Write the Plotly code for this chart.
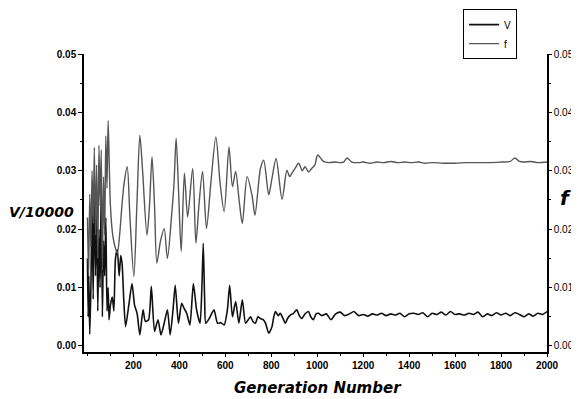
import plotly.graph_objects as go

# ---- data ----
gen_f = [0, 5, 10, 15, 20, 25, 30, 35, 40, 45, 50, 55, 60, 65, 70, 75, 80, 85, 90, 95,
         100, 110, 120, 130, 140, 150, 160, 173, 185, 202, 215, 228, 240, 259, 270, 281,
         292, 302, 318, 334, 348, 367, 377, 386, 397, 408, 422, 436, 458, 472, 485, 501,
         518, 537, 559, 577, 595, 616, 631, 645, 660, 674, 695, 717, 729, 753, 767, 789,
         803, 821, 847, 868, 880, 890, 905, 919, 935, 947, 962, 976, 990, 1002, 1027,
         1050, 1080, 1100, 1115, 1130, 1150, 1180, 1200, 1230, 1260, 1290, 1320, 1350,
         1380, 1410, 1440, 1470, 1500, 1550, 1600, 1650, 1700, 1750, 1800, 1840, 1860,
         1880, 1900, 1930, 1960, 2000]
val_f = [0.022, 0.012, 0.026, 0.017, 0.030, 0.021, 0.034, 0.019, 0.031, 0.015, 0.0344,
         0.024, 0.0336, 0.013, 0.029, 0.019, 0.036, 0.027, 0.0386, 0.031, 0.024, 0.019,
         0.017, 0.0159, 0.019, 0.024, 0.028, 0.0307, 0.022, 0.0119, 0.024, 0.0361, 0.030,
         0.019, 0.024, 0.0324, 0.024, 0.0142, 0.018, 0.0201, 0.015, 0.0227, 0.028, 0.0356,
         0.026, 0.0162, 0.0296, 0.0221, 0.0304, 0.0176, 0.024, 0.0299, 0.0201, 0.0279,
         0.0358, 0.028, 0.023, 0.0341, 0.0273, 0.0299, 0.025, 0.021, 0.029, 0.0256, 0.0224,
         0.0304, 0.0318, 0.0259, 0.0287, 0.0321, 0.0251, 0.0301, 0.029, 0.0296, 0.0305,
         0.0313, 0.030, 0.0307, 0.0298, 0.0304, 0.031, 0.0327, 0.0316,
         0.0314, 0.0315, 0.0314, 0.0315, 0.0322, 0.0315, 0.0314, 0.0315, 0.0313, 0.0315,
         0.0314, 0.0316, 0.0314, 0.0315, 0.0314, 0.0315, 0.0313, 0.0314, 0.0313, 0.0313,
         0.0314, 0.0314, 0.0314, 0.0315, 0.0316, 0.0322, 0.0316, 0.0315, 0.0316, 0.0314,
         0.0315]

gen_v = [0, 3, 6, 10, 15, 20, 25, 30, 35, 40, 45, 50, 55, 60, 65, 70, 75, 80, 85, 90, 94,
         100, 108, 115, 122, 130, 138, 145, 151, 158, 166, 180, 194, 205, 216, 228, 242,
         252, 266, 278, 292, 307, 320, 334, 348, 360, 372, 382, 396, 410, 420, 432, 446,
         461, 475, 490, 498, 504, 510, 515, 530, 540, 551, 566, 580, 595, 609, 619, 631,
         645, 659, 674, 688, 700, 710, 720, 731, 742, 753, 765, 775, 789, 803, 810, 818,
         830, 839, 850, 861, 872, 883, 897, 911, 922, 933, 947, 962, 972, 983, 995, 1005,
         1020, 1040, 1060, 1080, 1100, 1120, 1140, 1160, 1180, 1200, 1220, 1240, 1260,
         1280, 1300, 1320, 1340, 1360, 1380, 1400, 1420, 1440, 1460, 1480, 1500, 1520,
         1540, 1560, 1580, 1600, 1620, 1640, 1660, 1680, 1700, 1720, 1740, 1760, 1780,
         1800, 1820, 1840, 1860, 1880, 1900, 1920, 1940, 1960, 1980, 2000]
val_v = [0.015, 0.005, 0.012, 0.002, 0.010, 0.025, 0.008, 0.028, 0.012, 0.024, 0.006,
         0.020, 0.010, 0.027, 0.005, 0.018, 0.012, 0.022, 0.006, 0.010, 0.0045, 0.007,
         0.0084, 0.006, 0.015, 0.0165, 0.012, 0.0155, 0.014, 0.008, 0.0033, 0.007, 0.0107,
         0.007, 0.0056, 0.0019, 0.0062, 0.0042, 0.0045, 0.0102, 0.0025, 0.0045, 0.0019,
         0.0039, 0.0062, 0.0019, 0.006, 0.0104, 0.0039, 0.0073, 0.0065, 0.0056, 0.0036,
         0.0107, 0.0062, 0.0039, 0.010, 0.0176, 0.008, 0.0039, 0.0047, 0.0055, 0.0062,
         0.0039, 0.004, 0.0036, 0.0062, 0.0104, 0.005, 0.0076, 0.0039, 0.0079, 0.0039,
         0.0045, 0.005, 0.0042, 0.0039, 0.005, 0.0047, 0.0045, 0.0039, 0.0022, 0.0033,
         0.0048, 0.0059, 0.0052, 0.0056, 0.0048, 0.0039, 0.0048, 0.0053, 0.0056, 0.0062,
         0.0052, 0.0047, 0.0055, 0.0059, 0.005, 0.0045, 0.0055, 0.0056,
         0.0052, 0.0055, 0.0045, 0.0055, 0.0058, 0.0052, 0.0055, 0.0059, 0.0052, 0.0054,
         0.0051, 0.0055, 0.0053, 0.0056, 0.0052, 0.0055, 0.0053, 0.0056, 0.0050, 0.0055,
         0.0056, 0.0054, 0.0057, 0.0050, 0.0056, 0.0054, 0.0058, 0.0053, 0.0059, 0.0054,
         0.0055, 0.0053, 0.0056, 0.0054, 0.0058, 0.0050, 0.0055, 0.0052, 0.0057, 0.0053,
         0.0056, 0.0052, 0.0057, 0.0054, 0.0050, 0.0055, 0.0051, 0.0056, 0.0054, 0.0059]

x_ticks = [200, 400, 600, 800, 1000, 1200, 1400, 1600, 1800, 2000]
y_ticks = [0.00, 0.01, 0.02, 0.03, 0.04, 0.05]
y_tick_labels = ["0.00", "0.01", "0.02", "0.03", "0.04", "0.05"]
y_minor = [0.005, 0.015, 0.025, 0.035, 0.045]

FONT = "Liberation Sans"
TFONT = "DejaVu Sans"

fig = go.Figure()
fig.add_trace(go.Scatter(x=gen_v, y=val_v, mode="lines", name="V",
                         line=dict(color="#111111", width=1.6, shape="spline",
                                   smoothing=0.6)))
fig.add_trace(go.Scatter(x=gen_f, y=val_f, mode="lines", name="f", yaxis="y2",
                         line=dict(color="#555555", width=1.4, shape="spline",
                                   smoothing=0.8)))

yr = [-0.00103, 0.05]
line_common = dict(showgrid=False, zeroline=False, showline=True, linecolor="black",
                   linewidth=1.5, tickcolor="black", tickwidth=1.2, ticks="outside",
                   automargin=False)

# page body has an 8px margin, so the figure is 8px smaller and shifted
fig.update_layout(
    width=571, height=391,
    margin=dict(l=76, r=32, t=46, b=47, autoexpand=False),
    paper_bgcolor="white", plot_bgcolor="white",
    font=dict(family=FONT, color="black"),
    showlegend=True,
    legend=dict(xref="container", yref="container", x=0.797, y=0.997,
                xanchor="left", yanchor="top",
                bordercolor="black", borderwidth=1, bgcolor="white",
                font=dict(size=10, family=FONT), itemwidth=30),
    xaxis=dict(range=[-15, 2000], tickvals=x_ticks, ticklen=3,
               tickfont=dict(size=10, family=FONT, weight="bold"),
               minor=dict(dtick=100, ticklen=2, ticks="outside", tickcolor="black"),
               **line_common),
    yaxis=dict(range=yr, tickvals=y_ticks, ticktext=y_tick_labels, ticklen=4,
               tickfont=dict(size=10, family=FONT, weight="bold"),
               minor=dict(tickvals=y_minor, ticklen=2, ticks="outside",
                          tickcolor="black"),
               **line_common),
    yaxis2=dict(range=yr, tickvals=y_ticks, ticktext=y_tick_labels, ticklen=3,
                overlaying="y", side="right",
                tickfont=dict(size=10, family=FONT),
                minor=dict(tickvals=y_minor, ticklen=2, ticks="outside",
                           tickcolor="black"),
                **line_common),
)

fig.add_annotation(text="<b><i>V/10000</i></b>", xref="paper", yref="paper",
                   x=-0.018, y=0.47, xanchor="right", yanchor="middle",
                   showarrow=False, font=dict(size=14, family=TFONT))
fig.add_annotation(text="<b><i>f</i></b>", xref="paper", yref="paper",
                   x=1.039, y=0.517, xanchor="center", yanchor="middle",
                   showarrow=False, font=dict(size=20, family=TFONT))
fig.add_annotation(text="<b><i>Generation Number</i></b>", xref="paper", yref="paper",
                   x=0.505, y=-0.121, xanchor="center", yanchor="middle",
                   showarrow=False, font=dict(size=15, family=TFONT))

fig.write_html("out.html")
